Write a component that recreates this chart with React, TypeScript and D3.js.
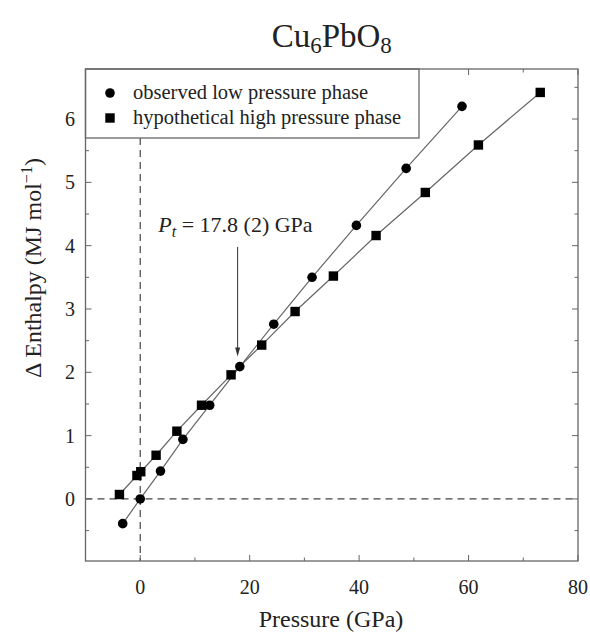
import React from "react";
import * as d3 from "d3";

const lowP = [-3.2, 0, 3.7, 7.8, 12.7, 18.2, 24.4, 31.4, 39.5, 48.6, 58.8];
const lowH = [-0.39, 0.0, 0.44, 0.94, 1.48, 2.09, 2.76, 3.5, 4.32, 5.22, 6.2];
const highP = [-3.8, -0.6, 0.1, 2.9, 6.7, 11.2, 16.6, 22.2, 28.3, 35.3, 43.1, 52.1, 61.8, 73.1];
const highH = [0.07, 0.37, 0.43, 0.69, 1.07, 1.48, 1.96, 2.43, 2.96, 3.52, 4.16, 4.84, 5.59, 6.42];
const xMajor = [0, 20, 40, 60, 80];
const xMinor = [-10, 10, 30, 50, 70];
const yMajor = [0, 1, 2, 3, 4, 5, 6];
const yMinor = [-0.5, 0.5, 1.5, 2.5, 3.5, 4.5, 5.5, 6.5];
const legendLabels = ["observed low pressure phase", "hypothetical high pressure phase"];
const transitionP = 17.8;

const W = 590, H = 635;
const L = 85.5, R = 578, T = 69, B = 561;
const FONT = "'Liberation Serif', 'Times New Roman', serif";
const AX = "#666";

export default function App() {
  const x = d3.scaleLinear().domain([-10, 80]).range([L, R]);
  const y = d3.scaleLinear().domain([-0.98, 6.79]).range([B, T]);
  const low = lowP.map((p, i) => [p, lowH[i]] as [number, number]);
  const high = highP.map((p, i) => [p, highH[i]] as [number, number]);
  const line = d3.line<[number, number]>().x(d => x(d[0])).y(d => y(d[1]));
  const legB = 138, legR = 419;
  const sq = 9.4, cr = 4.8;
  const ax = x(transitionP);
  const aTop = y(3.98), aTip = y(2.25);
  return (
    <svg width={W} height={H} style={{ position: "absolute", left: 0, top: 0, background: "#fff" }} fontFamily={FONT}>
      <rect x={0} y={0} width={W} height={H} fill="#fff" />
      {/* title */}
      <text x={(L + R) / 2} y={47} textAnchor="middle" fontSize={33} fill="#222">
        Cu<tspan fontSize={23} dy={6}>6</tspan><tspan dy={-6}>PbO</tspan><tspan fontSize={23} dy={6}>8</tspan>
      </text>
      {/* dashed zero lines */}
      <line x1={L} x2={R} y1={y(0)} y2={y(0)} stroke="#444" strokeWidth={1.2} strokeDasharray="7,5" />
      <line x1={x(0)} x2={x(0)} y1={legB} y2={B} stroke="#444" strokeWidth={1.2} strokeDasharray="7,5" />
      {/* ticks */}
      {xMajor.map(v => (
        <g key={"xm" + v}>
          <line x1={x(v)} x2={x(v)} y1={B} y2={B - 6} stroke={AX} strokeWidth={1} />
          <line x1={x(v)} x2={x(v)} y1={T} y2={T + 6} stroke={AX} strokeWidth={1} />
          <text x={x(v)} y={594} textAnchor="middle" fontSize={20} fill="#222">{v}</text>
        </g>
      ))}
      {xMinor.map(v => (
        <g key={"xn" + v}>
          <line x1={x(v)} x2={x(v)} y1={B} y2={B - 3.5} stroke={AX} strokeWidth={1} />
          <line x1={x(v)} x2={x(v)} y1={T} y2={T + 3.5} stroke={AX} strokeWidth={1} />
        </g>
      ))}
      {yMajor.map(v => (
        <g key={"ym" + v}>
          <line x1={L} x2={L + 6} y1={y(v)} y2={y(v)} stroke={AX} strokeWidth={1} />
          <line x1={R} x2={R - 6} y1={y(v)} y2={y(v)} stroke={AX} strokeWidth={1} />
          <text x={75} y={y(v) + 7} textAnchor="end" fontSize={20} fill="#222">{v}</text>
        </g>
      ))}
      {yMinor.map(v => (
        <g key={"yn" + v}>
          <line x1={L} x2={L + 3.5} y1={y(v)} y2={y(v)} stroke={AX} strokeWidth={1} />
          <line x1={R} x2={R - 3.5} y1={y(v)} y2={y(v)} stroke={AX} strokeWidth={1} />
        </g>
      ))}
      {/* series lines */}
      <path d={line(low) || ""} fill="none" stroke="#666" strokeWidth={1.2} />
      <path d={line(high) || ""} fill="none" stroke="#666" strokeWidth={1.2} />
      {low.map((d, i) => (
        <circle key={"c" + i} cx={x(d[0])} cy={y(d[1])} r={cr} fill="#000" />
      ))}
      {high.map((d, i) => (
        <rect key={"s" + i} x={x(d[0]) - sq / 2} y={y(d[1]) - sq / 2} width={sq} height={sq} fill="#000" />
      ))}
      {/* annotation */}
      <text x={x(3.3)} y={y(4.21)} fontSize={22} fill="#222">
        <tspan fontStyle="italic">P</tspan><tspan fontStyle="italic" fontSize={16} dy={5}>t</tspan>
        <tspan dy={-5}> = 17.8 (2) GPa</tspan>
      </text>
      <line x1={ax} x2={ax} y1={aTop} y2={aTip - 6} stroke="#333" strokeWidth={1} />
      <path d={`M${ax - 2.5},${aTip - 9} L${ax},${aTip} L${ax + 2.5},${aTip - 9} Z`} fill="#333" />
      {/* legend */}
      <rect x={L} y={T} width={legR - L} height={legB - T} fill="#fff" stroke={AX} strokeWidth={1.3} />
      <circle cx={110} cy={93} r={cr} fill="#000" />
      <rect x={110 - sq / 2} y={118 - sq / 2} width={sq} height={sq} fill="#000" />
      <text x={133} y={99} fontSize={20.5} fill="#222">{legendLabels[0]}</text>
      <text x={133} y={124} fontSize={20.5} fill="#222">{legendLabels[1]}</text>
      {/* frame */}
      <rect x={L} y={T} width={R - L} height={B - T} fill="none" stroke={AX} strokeWidth={1.3} />
      {/* axis titles */}
      <text x={331} y={627} textAnchor="middle" fontSize={24} fill="#222">Pressure (GPa)</text>
      <text transform={`translate(41,268) rotate(-90)`} textAnchor="middle" fontSize={24} fill="#222">
        Δ Enthalpy (MJ mol<tspan fontSize={16} dy={-9}>−1</tspan><tspan dy={9}>)</tspan>
      </text>
    </svg>
  );
}
